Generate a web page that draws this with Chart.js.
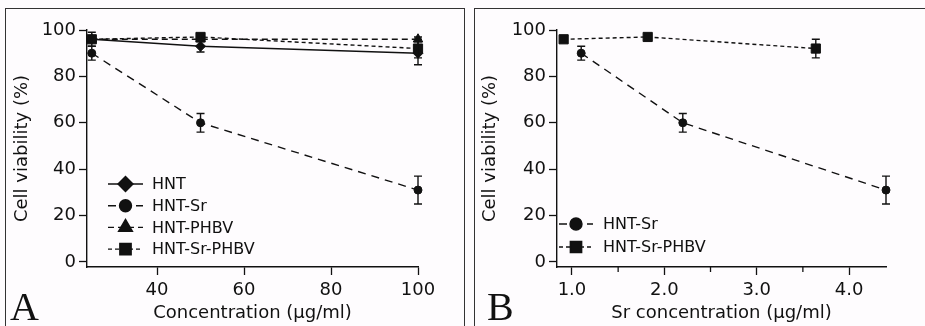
<!DOCTYPE html>
<html>
<head>
<meta charset="utf-8">
<script src="https://cdn.jsdelivr.net/npm/chart.js@4.4.1/dist/chart.umd.min.js"></script>
<style>
html, body { margin: 0; padding: 0; background: #fefcfe; overflow: hidden; }
body { width: 925px; height: 326px; position: relative; }
.box { position: absolute; border: 1.5px solid #333; box-sizing: border-box; }
.wrap { position: absolute; top: 0; height: 326px; }
.panel { position: absolute; font: 40px "Liberation Serif", serif; line-height: 40px; color: #111; }
</style>
</head>
<body>
<div class="box" style="left:5px;top:8px;width:460px;height:340px"></div>
<div class="box" style="left:474px;top:8px;width:470px;height:340px"></div>
<div class="wrap" style="left:0;width:465px"><canvas id="chartA"></canvas></div>
<div class="wrap" style="left:465px;width:460px"><canvas id="chartB"></canvas></div>
<div class="panel" style="left:10px;top:287px">A</div>
<div class="panel" style="left:487px;top:287px">B</div>
<script>
(function () {
    'use strict';

    // panel A: concentration in ug/ml
    const concA = [25, 50, 100];
    const hntVal = [96, 93, 90];
    const hntErr = [3, 2.5, 5];
    const hntSrVal = [90, 60, 31];
    const hntSrErr = [3, 4, 6];
    const hntPhbvVal = [96, 96, 96];
    const hntPhbvErr = [1, 1, 1];
    const hntSrPhbvVal = [96, 97, 92];
    const hntSrPhbvErr = [1, 1, 4];

    // panel B: Sr concentration in ug/ml
    const srConcSr = [1.1, 2.2, 4.4];
    const srConcSrPhbv = [0.91, 1.82, 3.64];

    const yTicks = [0, 20, 40, 60, 80, 100];
    const xTicksA = [40, 60, 80, 100];
    const xTicksB = [1, 2, 3, 4];
    const xMinorB = [1.5, 2.5, 3.5];

    const INK = '#111';
    Chart.defaults.font.family = '"DejaVu Sans", Verdana, sans-serif';
    Chart.defaults.color = INK;

    function series(label, xs, ys, errs, style, radius, keyRadius, dash) {
        return {
            label: label,
            data: xs.map(function (x, i) { return { x: x, y: ys[i] }; }),
            errors: errs,
            keyRadius: keyRadius,
            pointStyle: style,
            pointRadius: radius,
            pointHoverRadius: radius,
            pointBorderWidth: 1,
            pointBackgroundColor: INK,
            pointBorderColor: INK,
            borderColor: INK,
            backgroundColor: INK,
            borderWidth: 1.4,
            borderDash: dash,
            clip: false,
            tension: 0,
        };
    }

    const errorBars = {
        id: 'errorBars',
        afterDatasetsDraw: function (chart) {
            const ctx = chart.ctx, x = chart.scales.x, y = chart.scales.y;
            ctx.save();
            ctx.strokeStyle = INK;
            ctx.lineWidth = 1.4;
            chart.data.datasets.forEach(function (ds) {
                ds.data.forEach(function (pt, i) {
                    const e = ds.errors[i];
                    if (!e) return;
                    const px = x.getPixelForValue(pt.x);
                    const top = y.getPixelForValue(pt.y + e);
                    const bot = y.getPixelForValue(pt.y - e);
                    ctx.beginPath();
                    ctx.moveTo(px, top); ctx.lineTo(px, bot);
                    ctx.moveTo(px - 4, top); ctx.lineTo(px + 4, top);
                    ctx.moveTo(px - 4, bot); ctx.lineTo(px + 4, bot);
                    ctx.stroke();
                });
            });
            ctx.restore();
        }
    };

    const lineKey = {
        id: 'lineKey',
        afterDatasetsDraw: function (chart, args, opts) {
            const ctx = chart.ctx, area = chart.chartArea;
            chart.data.datasets.forEach(function (ds, i) {
                const y = area.top + opts.top + i * opts.gap;
                const x0 = area.left + opts.left;
                ctx.save();
                ctx.strokeStyle = INK;
                ctx.fillStyle = INK;
                ctx.lineWidth = 1.4;
                ctx.setLineDash(ds.borderDash || []);
                ctx.beginPath();
                ctx.moveTo(x0, y);
                ctx.lineTo(x0 + opts.len, y);
                ctx.stroke();
                ctx.setLineDash([]);
                Chart.helpers.drawPoint(ctx, { pointStyle: ds.pointStyle, radius: ds.keyRadius, rotation: 0, borderWidth: 1 }, x0 + opts.len / 2, y);
                ctx.font = '16px "DejaVu Sans"';
                ctx.textBaseline = 'middle';
                ctx.textAlign = 'left';
                ctx.fillText(ds.label, x0 + opts.textOffset, y + 1);
                ctx.restore();
            });
        }
    };

    const minorTicks = {
        id: 'minorTicks',
        afterDraw: function (chart, args, opts) {
            if (!opts.values) return;
            const ctx = chart.ctx, x = chart.scales.x, base = chart.chartArea.bottom;
            ctx.save();
            ctx.strokeStyle = INK;
            ctx.lineWidth = 1.3;
            opts.values.forEach(function (v) {
                const px = x.getPixelForValue(v);
                ctx.beginPath();
                ctx.moveTo(px, base);
                ctx.lineTo(px, base + 5);
                ctx.stroke();
            });
            ctx.restore();
        }
    };

    function axisGrid(isMinor) {
        return {
            drawOnChartArea: false,
            drawTicks: true,
            tickLength: 8,
            tickWidth: 1.3,
            tickColor: function (c) {
                return isMinor && c.tick && isMinor(c.tick.value) ? 'rgba(0,0,0,0)' : INK;
            },
        };
    }

    function makeChart(id, cfg) {
        return new Chart(document.getElementById(id), {
            type: 'line',
            data: { datasets: cfg.datasets },
            plugins: [errorBars, lineKey, minorTicks],
            options: {
                responsive: true,
                maintainAspectRatio: false,
                animation: false,
                events: [],
                layout: { padding: { top: 30, right: cfg.padRight, left: 0, bottom: 0 } },
                plugins: {
                    legend: { display: false },
                    tooltip: { enabled: false },
                    lineKey: cfg.key,
                    minorTicks: { values: cfg.minor },
                },
                scales: {
                    x: {
                        type: 'linear',
                        min: cfg.xMin,
                        max: cfg.xMax,
                        afterBuildTicks: function (s) {
                            s.ticks = cfg.xTicks.concat(cfg.minor || []).sort(function (a, b) { return a - b; })
                                .map(function (v) { return { value: v }; });
                        },
                        afterFit: function (s) { s.height = 59; },
                        grid: axisGrid(cfg.minor ? function (v) { return cfg.minor.indexOf(v) >= 0; } : null),
                        border: { display: true, color: INK, width: 1.4 },
                        ticks: {
                            font: { size: 18 },
                            padding: 5,
                            maxRotation: 0,
                            autoSkip: false,
                            callback: function (v) {
                                if (cfg.minor && cfg.minor.indexOf(v) >= 0) return '';
                                return cfg.xFormat(v);
                            },
                        },
                        title: {
                            display: true,
                            text: cfg.xTitle,
                            font: { size: 18 },
                            padding: { top: 0, bottom: 2 },
                        },
                    },
                    y: {
                        min: -2.16,
                        max: 100,
                        afterBuildTicks: function (s) {
                            s.ticks = yTicks.map(function (v) { return { value: v }; });
                        },
                        afterFit: function (s) { s.width = cfg.yWidth; },
                        grid: axisGrid(null),
                        border: { display: true, color: INK, width: 1.4 },
                        ticks: { font: { size: 18 }, padding: 3 },
                        title: {
                            display: true,
                            text: 'Cell viability (%)',
                            font: { size: 18 },
                            padding: { top: cfg.yTitlePad, bottom: 0 },
                        },
                    },
                },
            },
        });
    }

    makeChart('chartA', {
        datasets: [
            series('HNT', concA, hntVal, hntErr, 'rectRot', 5, 7.5, []),
            series('HNT-Sr', concA, hntSrVal, hntSrErr, 'circle', 4, 6, [8, 6]),
            series('HNT-PHBV', concA, hntPhbvVal, hntPhbvErr, 'triangle', 5.5, 8, [6, 4]),
            series('HNT-Sr-PHBV', concA, hntSrPhbvVal, hntSrPhbvErr, 'rect', 6.5, 8, [4, 3]),
        ],
        xMin: 23.9,
        xMax: 100,
        xTicks: xTicksA,
        xFormat: function (v) { return String(v); },
        xTitle: 'Concentration (μg/ml)',
        yWidth: 87,
        yTitlePad: 12,
        padRight: 47,
        key: { left: 21, len: 35, textOffset: 44, top: 154, gap: 21.7 },
    });

    makeChart('chartB', {
        datasets: [
            series('HNT-Sr', srConcSr, hntSrVal, hntSrErr, 'circle', 4, 6, [8, 6]),
            series('HNT-Sr-PHBV', srConcSrPhbv, hntSrPhbvVal, hntSrPhbvErr, 'rect', 6.5, 8, [4, 3]),
        ],
        xMin: 0.838,
        xMax: 4.4,
        xTicks: xTicksB,
        minor: xMinorB,
        xFormat: function (v) { return v.toFixed(1); },
        xTitle: 'Sr concentration (μg/ml)',
        yWidth: 92,
        yTitlePad: 15,
        padRight: 39,
        key: { left: 2, len: 34, textOffset: 44, top: 194, gap: 23 },
    });
})();
</script>
</body>
</html>
